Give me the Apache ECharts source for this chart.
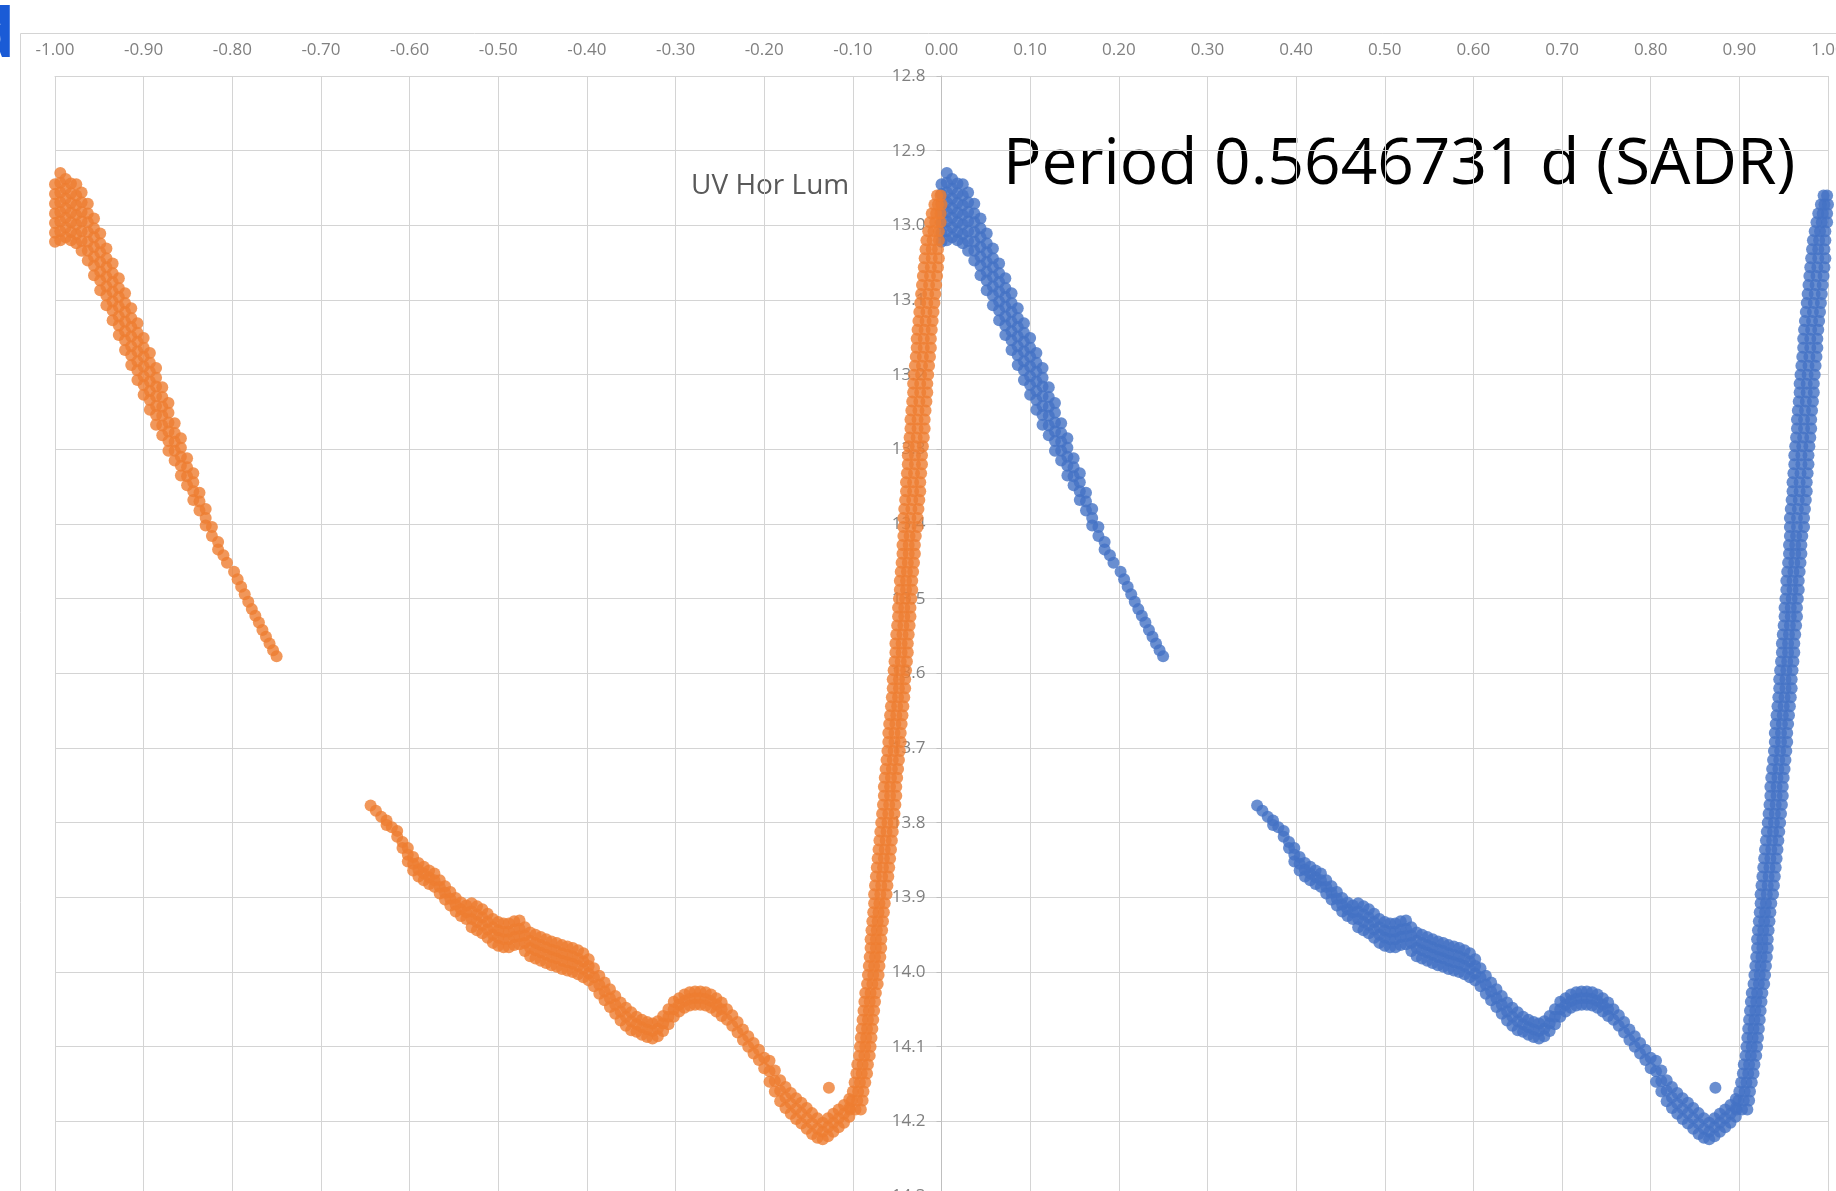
<!DOCTYPE html>
<html>
<head>
<meta charset="utf-8">
<title>UV Hor Lum</title>
<script src="https://cdn.jsdelivr.net/npm/echarts@6/dist/echarts.min.js"></script>
<style>
  html, body { margin: 0; padding: 0; background: #fff; }
  #main { width: 1836px; height: 1191px; }
</style>
</head>
<body>
<div id="main"></div>
<script>
// phase ticks (top axis) and magnitude ticks (reversed axis)
var phaseTicks = { min: -1, max: 1, step: 0.1 };
var magTicks = { min: 12.8, max: 14.3, step: 0.1 };

// falling arm after maximum: [phase, magnitudes at that phase...]
var fadeCols = [
  [0.000,12.945,12.958,12.971,12.984,12.997,13.010,13.022],
  [0.006,12.930,12.943,12.956,12.969,12.982,12.995,13.008,13.020],
  [0.012,12.938,12.951,12.964,12.977,12.990,13.003,13.016],
  [0.018,12.944,12.957,12.970,12.983,12.996,13.009,13.020],
  [0.024,12.945,12.960,12.973,12.986,12.999,13.012,13.024],
  [0.030,12.956,12.969,12.982,12.995,13.008,13.021,13.034],
  [0.037,12.971,12.984,12.996,13.009,13.022,13.034,13.047],
  [0.044,12.991,13.004,13.016,13.029,13.042,13.054,13.067],
  [0.051,13.011,13.024,13.036,13.049,13.062,13.074,13.087],
  [0.058,13.031,13.044,13.056,13.069,13.082,13.094,13.107],
  [0.065,13.051,13.064,13.076,13.089,13.102,13.114,13.127],
  [0.072,13.071,13.084,13.096,13.109,13.122,13.134,13.147],
  [0.079,13.091,13.104,13.116,13.129,13.142,13.154,13.167],
  [0.086,13.111,13.124,13.136,13.149,13.162,13.174,13.187],
  [0.093,13.131,13.144,13.156,13.169,13.182,13.194,13.207],
  [0.100,13.151,13.164,13.176,13.189,13.202,13.214,13.227],
  [0.107,13.171,13.184,13.196,13.209,13.222,13.234,13.247],
  [0.114,13.191,13.204,13.216,13.229,13.242,13.254,13.267],
  [0.121,13.217,13.230,13.243,13.255,13.268,13.281],
  [0.128,13.238,13.251,13.264,13.276,13.289,13.302],
  [0.135,13.265,13.278,13.290,13.302,13.315],
  [0.142,13.285,13.298,13.310,13.322,13.335],
  [0.149,13.312,13.324,13.336,13.348],
  [0.156,13.332,13.344,13.356,13.368],
  [0.163,13.358,13.370,13.382],
  [0.170,13.380,13.392,13.402],
  [0.177,13.404,13.416],
  [0.184,13.424,13.434],
  [0.190,13.442],[0.194,13.452],
  [0.202,13.464],[0.206,13.474],[0.210,13.484],[0.214,13.494],[0.218,13.504],[0.222,13.514],
  [0.226,13.523],[0.230,13.532],[0.234,13.542],[0.238,13.551],[0.242,13.560],[0.246,13.569],
  [0.250,13.577]
];

// slow decline, bump and minimum: [phase, magnitudes...]
var minimumCols = [
  [0.356,13.777],[0.362,13.784],[0.368,13.792],[0.374,13.797,13.803],[0.380,13.806],
  [0.386,13.811,13.819],[0.392,13.826,13.834],
  [0.398,13.834,13.843,13.852],[0.404,13.846,13.855,13.864],[0.410,13.854,13.863,13.872],
  [0.416,13.859,13.868,13.877],[0.422,13.864,13.873,13.882],[0.428,13.868,13.877,13.886],
  [0.434,13.877,13.886,13.895],[0.440,13.885,13.894,13.903],[0.446,13.893,13.902,13.911],
  [0.452,13.901,13.910,13.919],[0.458,13.907,13.916,13.925],[0.464,13.911,13.920,13.929],
  [0.470,13.908,13.919,13.929,13.940],[0.476,13.912,13.923,13.933,13.944],
  [0.482,13.916,13.927,13.937,13.948],[0.488,13.922,13.933,13.943,13.954],
  [0.494,13.929,13.940,13.950,13.961],[0.500,13.933,13.944,13.954,13.965],
  [0.506,13.935,13.946,13.956,13.967],[0.512,13.935,13.946,13.956,13.967],
  [0.518,13.932,13.943,13.953,13.964],[0.524,13.931,13.942,13.952,13.963],
  [0.530,13.940,13.951,13.961,13.972],[0.536,13.947,13.958,13.968,13.979],
  [0.542,13.950,13.961,13.971,13.982],[0.548,13.953,13.964,13.974,13.985],
  [0.554,13.956,13.967,13.977,13.988],[0.560,13.959,13.970,13.980,13.991],
  [0.566,13.961,13.972,13.982,13.993],[0.572,13.964,13.975,13.985,13.996],
  [0.578,13.966,13.977,13.987,13.998],[0.584,13.968,13.979,13.989,14.000],
  [0.590,13.971,13.982,13.992,14.003],[0.596,13.975,13.986,13.996,14.007],
  [0.602,13.983,13.992,14.002,14.011],
  [0.608,13.995,14.007,14.019],[0.614,14.005,14.017,14.029],[0.620,14.014,14.026,14.038],
  [0.626,14.023,14.035,14.047],[0.632,14.032,14.044,14.056],[0.638,14.041,14.053,14.065],
  [0.644,14.048,14.060,14.072],[0.650,14.054,14.066,14.078],[0.656,14.060,14.070,14.080],
  [0.662,14.064,14.074,14.084],[0.668,14.067,14.077,14.087],[0.674,14.069,14.079,14.089],
  [0.680,14.066,14.076,14.086],[0.686,14.059,14.069,14.079],[0.692,14.050,14.060,14.070],
  [0.698,14.040,14.050,14.060],[0.704,14.035,14.044,14.053],[0.710,14.030,14.039,14.048],
  [0.716,14.027,14.036,14.045],[0.722,14.026,14.035,14.044],[0.728,14.026,14.035,14.044],
  [0.734,14.027,14.036,14.045],[0.740,14.030,14.039,14.048],[0.746,14.035,14.044,14.053],
  [0.752,14.041,14.050,14.059],
  [0.758,14.050,14.064],[0.764,14.058,14.072],[0.770,14.067,14.081],[0.776,14.077,14.091],
  [0.782,14.086,14.100],[0.788,14.095,14.109],[0.794,14.104,14.118],[0.800,14.115,14.129],
  [0.806,14.119,14.133,14.147],[0.812,14.132,14.146,14.160],[0.818,14.145,14.159,14.173],
  [0.824,14.154,14.168,14.182],[0.830,14.162,14.176,14.190],[0.836,14.169,14.183,14.197],
  [0.842,14.175,14.189,14.203],[0.848,14.182,14.196,14.210],[0.854,14.189,14.203,14.217],
  [0.860,14.196,14.210,14.222],[0.866,14.202,14.214,14.224],[0.872,14.196,14.208,14.220],
  [0.878,14.190,14.202,14.214],[0.884,14.184,14.196,14.208],[0.890,14.178,14.190,14.202],
  [0.896,14.170,14.182,14.194],
  [0.873,14.155]
];

// steep rise back to maximum: [magnitude, phases at that magnitude...]
var riseRows = [
  [14.184,0.897,0.903,0.909],[14.172,0.899,0.905,0.911],[14.160,0.900,0.906,0.912],
  [14.148,0.902,0.908,0.914],[14.136,0.904,0.910,0.916],[14.124,0.905,0.911,0.917],
  [14.112,0.907,0.913,0.919],[14.100,0.908,0.914,0.920],[14.088,0.909,0.915,0.921],
  [14.076,0.910,0.916,0.922],[14.064,0.911,0.917,0.923],[14.052,0.912,0.918,0.924],
  [14.040,0.913,0.919,0.925],[14.028,0.914,0.920,0.926],[14.016,0.916,0.922,0.928],
  [14.004,0.917,0.923,0.929],[13.992,0.918,0.924,0.930],[13.980,0.919,0.925,0.931],
  [13.968,0.920,0.926,0.932],[13.956,0.920,0.926,0.932],[13.944,0.921,0.927,0.933],
  [13.932,0.922,0.928,0.934],[13.920,0.923,0.929,0.935],[13.908,0.924,0.930,0.936],
  [13.896,0.924,0.931,0.938],[13.884,0.925,0.932,0.939],[13.872,0.926,0.933,0.940],
  [13.860,0.927,0.934,0.941],[13.848,0.928,0.935,0.942],[13.836,0.929,0.936,0.943],
  [13.824,0.930,0.937,0.944],[13.812,0.931,0.938,0.945],[13.800,0.932,0.939,0.946],
  [13.788,0.933,0.940,0.947],[13.776,0.934,0.941,0.948],[13.764,0.935,0.942,0.949],
  [13.752,0.935,0.942,0.949],[13.740,0.936,0.943,0.950],[13.728,0.937,0.944,0.951],
  [13.716,0.938,0.945,0.952],[13.704,0.939,0.946,0.953],[13.692,0.940,0.947,0.954],
  [13.680,0.940,0.947,0.954],[13.668,0.941,0.948,0.955],[13.656,0.942,0.949,0.956],
  [13.644,0.943,0.950,0.957],[13.632,0.944,0.951,0.958],[13.620,0.945,0.952,0.959],
  [13.608,0.945,0.952,0.959],[13.596,0.946,0.953,0.960],[13.584,0.947,0.954,0.961],
  [13.572,0.948,0.955,0.962],[13.560,0.948,0.955,0.962],[13.548,0.949,0.956,0.963],
  [13.536,0.950,0.957,0.964],[13.524,0.951,0.958,0.965],[13.512,0.951,0.958,0.965],
  [13.500,0.952,0.959,0.966],[13.488,0.953,0.960,0.967],[13.476,0.953,0.960,0.967],
  [13.464,0.954,0.961,0.968],[13.452,0.955,0.962,0.969],[13.440,0.956,0.963,0.970],
  [13.428,0.956,0.963,0.970],[13.416,0.957,0.964,0.971],[13.404,0.957,0.965,0.973],
  [13.392,0.957,0.965,0.973],[13.380,0.958,0.966,0.974],[13.368,0.959,0.967,0.975],
  [13.356,0.960,0.968,0.976],[13.344,0.960,0.968,0.976],[13.332,0.961,0.969,0.977],
  [13.320,0.962,0.970,0.978],[13.308,0.962,0.970,0.978],[13.296,0.963,0.971,0.979],
  [13.284,0.964,0.972,0.980],[13.272,0.965,0.973,0.981],[13.260,0.965,0.973,0.981],
  [13.248,0.966,0.974,0.982],[13.236,0.967,0.975,0.983],[13.224,0.968,0.976,0.984],
  [13.212,0.968,0.976,0.984],[13.200,0.969,0.977,0.985],[13.188,0.970,0.978,0.986],
  [13.176,0.971,0.979,0.987],[13.164,0.972,0.980,0.988],[13.152,0.972,0.980,0.988],
  [13.140,0.973,0.981,0.989],[13.128,0.974,0.982,0.990],[13.116,0.975,0.983,0.991],
  [13.104,0.976,0.984,0.992],[13.092,0.977,0.985,0.993],[13.080,0.978,0.986,0.994],
  [13.068,0.979,0.987,0.995],[13.056,0.980,0.988,0.996],[13.044,0.981,0.989,0.997],
  [13.032,0.982,0.989,0.996],[13.020,0.983,0.990,0.997],[13.008,0.985,0.991,0.997],
  [12.996,0.987,0.993,0.999],[12.984,0.989,0.994,0.999],[12.972,0.992,0.996,1.000],
  [12.960,0.995,0.999]
];

function fromCols(cols) {
  var pts = [];
  cols.forEach(function (c) {
    for (var i = 1; i < c.length; i++) pts.push([c[0], c[i]]);
  });
  return pts;
}
function fromRows(rows) {
  var pts = [];
  rows.forEach(function (r) {
    for (var i = 1; i < r.length; i++) pts.push([r[i], r[0]]);
  });
  return pts;
}

var cycle = fromCols(fadeCols).concat(fromCols(minimumCols), fromRows(riseRows));
// same cycle plotted one period earlier
var cycleBefore = cycle.map(function (p) { return [p[0] - 1, p[1]]; });

var gridColor = '#d4d4d4';
var labelFont = 'Open Sans';
var gridLeft = 55, gridWidth = 1773;

var myChart = echarts.init(document.getElementById('main'));

var option = {
  animation: false,
  backgroundColor: '#ffffff',
  grid: {
    left: gridLeft, top: 76, width: gridWidth, height: 1120,
    containLabel: false, outerBoundsMode: 'none'
  },
  graphic: [
    {
      type: 'rect', silent: true, z: -10,
      shape: { x: 20.5, y: 33.5, width: 1900, height: 1300 },
      style: { fill: 'none', stroke: gridColor, lineWidth: 1 }
    },
    {
      type: 'text', x: 15, y: 38, silent: true,
      style: {
        text: 'd', fontSize: 68, fontWeight: 'bold', fontFamily: labelFont, fill: '#1a5bd6',
        align: 'right', verticalAlign: 'middle', textAlign: 'right', textVerticalAlign: 'middle'
      }
    },
    {
      type: 'text', x: 1003, y: 166, silent: true,
      style: {
        text: 'Period 0.5646731 d (SADR)', fontSize: 64, fontFamily: labelFont, fill: '#000000',
        align: 'left', verticalAlign: 'middle', textAlign: 'left', textVerticalAlign: 'middle'
      }
    },
    {
      type: 'text', x: 691, y: 186, silent: true,
      style: {
        text: 'UV Hor Lum', fontSize: 28, fontFamily: labelFont, fill: '#595959',
        align: 'left', verticalAlign: 'middle', textAlign: 'left', textVerticalAlign: 'middle'
      }
    }
  ],
  xAxis: {
    type: 'value',
    position: 'top',
    min: phaseTicks.min,
    max: phaseTicks.max,
    interval: phaseTicks.step,
    axisLine: { show: true, onZero: false, lineStyle: { color: gridColor } },
    axisTick: { show: false },
    axisLabel: {
      margin: 17, color: '#808080', fontSize: 17, fontFamily: labelFont,
      formatter: function (v) { return v.toFixed(2); }
    },
    splitLine: { show: true, lineStyle: { color: gridColor, width: 1 } }
  },
  yAxis: {
    type: 'value',
    inverse: true,
    min: magTicks.min,
    max: magTicks.max,
    interval: magTicks.step,
    // the vertical axis crosses at phase 0
    offset: -gridWidth / 2,
    axisLine: { show: true, onZero: false, lineStyle: { color: '#bfbfbf' } },
    axisTick: { show: true, length: 5, lineStyle: { color: '#bfbfbf' } },
    axisLabel: {
      margin: 16, color: '#808080', fontSize: 17, fontFamily: labelFont,
      formatter: function (v) { return v.toFixed(1); }
    },
    splitLine: { show: true, lineStyle: { color: gridColor, width: 1 } }
  },
  series: [
    {
      name: 'UV Hor Lum',
      type: 'scatter',
      data: cycle,
      symbol: 'circle',
      symbolSize: 12,
      itemStyle: { color: '#4472c4' },
      silent: true
    },
    {
      name: 'UV Hor Lum (-1)',
      type: 'scatter',
      data: cycleBefore,
      symbol: 'circle',
      symbolSize: 12,
      itemStyle: { color: '#ed7d31' },
      silent: true
    }
  ]
};

myChart.setOption(option);
</script>
</body>
</html>
